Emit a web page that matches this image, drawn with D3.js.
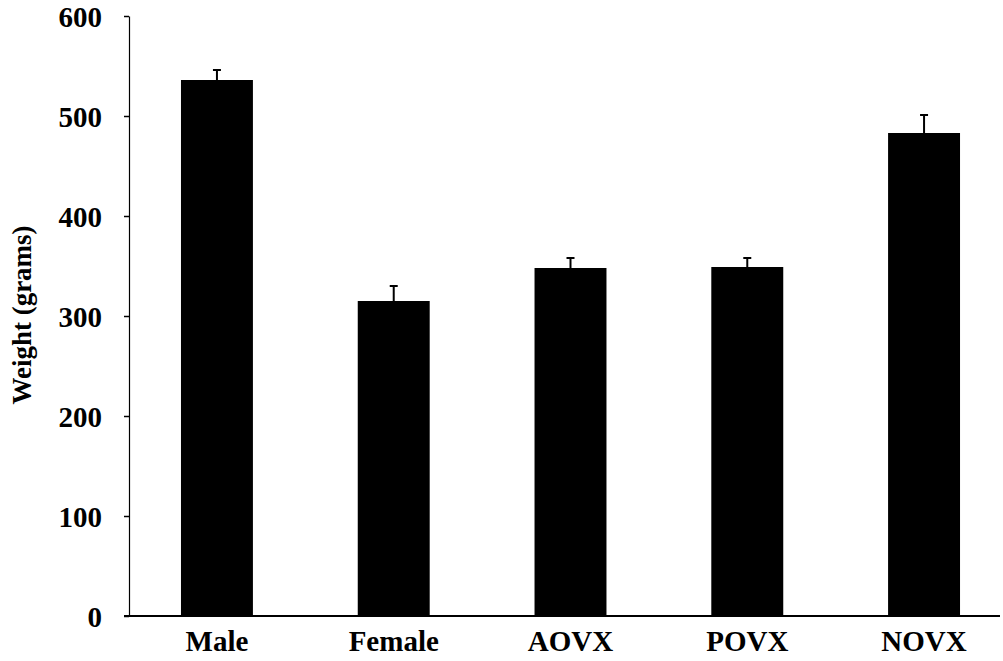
<!DOCTYPE html>
<html>
<head>
<meta charset="utf-8">
<script src="https://cdn.jsdelivr.net/npm/d3@7"></script>
<style>
  html, body { margin: 0; padding: 0; background: #fff; }
  svg { display: block; }
  .lbl { font-family: "Liberation Serif", "Times New Roman", serif; font-weight: bold; fill: #000; }
</style>
</head>
<body>
<svg id="chart" width="1003" height="661"></svg>
<script>
// Body weight by group (grams), with standard error
const groups = ["Male", "Female", "AOVX", "POVX", "NOVX"];
const weights = [536, 315, 348, 349, 483];
const errors = [10, 15, 10, 9, 18];
const yTicks = [0, 100, 200, 300, 400, 500, 600];

const svg = d3.select("#chart");
const x0 = 129, yBase = 616, yTop = 16;

const y = d3.scaleLinear().domain([0, 600]).range([yBase, yTop]);
const x = d3.scaleBand().domain(groups).range([x0, 1012])
  .paddingInner(0.593).paddingOuter(0.294);

// Bars
svg.append("g").selectAll("rect").data(groups).join("rect")
  .attr("x", d => x(d))
  .attr("width", x.bandwidth())
  .attr("y", (d, i) => y(weights[i]))
  .attr("height", (d, i) => yBase - y(weights[i]))
  .attr("fill", "#000");

// Error bars (upper half only)
const eb = svg.append("g").attr("stroke", "#000").attr("stroke-width", 2);
groups.forEach((g, i) => {
  const cx = x(g) + x.bandwidth() / 2;
  eb.append("line").attr("x1", cx).attr("x2", cx)
    .attr("y1", y(weights[i])).attr("y2", y(weights[i] + errors[i]));
  eb.append("line").attr("x1", cx - 4).attr("x2", cx + 4)
    .attr("y1", y(weights[i] + errors[i])).attr("y2", y(weights[i] + errors[i]));
});

// Y axis
const yAxis = svg.append("g").attr("transform", `translate(${x0},0)`)
  .call(d3.axisLeft(y).tickValues(yTicks).tickSize(5).tickPadding(22).tickSizeOuter(0));
yAxis.select(".domain").attr("stroke", "#000").attr("stroke-width", 1.2);
yAxis.selectAll(".tick line").attr("stroke", "#000").attr("stroke-width", 1.5);
yAxis.selectAll(".tick text").attr("class", "lbl").style("font-size", "29px")
  .attr("dy", "0.36em");

// X axis
const xAxis = svg.append("g").attr("transform", `translate(0,${yBase})`)
  .call(d3.axisBottom(x).tickSize(0).tickPadding(14).tickSizeOuter(0));
xAxis.select(".domain").remove();
svg.append("line").attr("x1", x0 - 5).attr("x2", 1000)
  .attr("y1", yBase).attr("y2", yBase)
  .attr("stroke", "#000").attr("stroke-width", 2);
xAxis.selectAll(".tick text").attr("class", "lbl").style("font-size", "29px")
  .attr("dy", "0.71em");

// Y axis title
svg.append("text").attr("class", "lbl")
  .attr("transform", `translate(31,315) rotate(-90)`)
  .attr("text-anchor", "middle")
  .style("font-size", "27px")
  .text("Weight (grams)");
</script>
</body>
</html>
